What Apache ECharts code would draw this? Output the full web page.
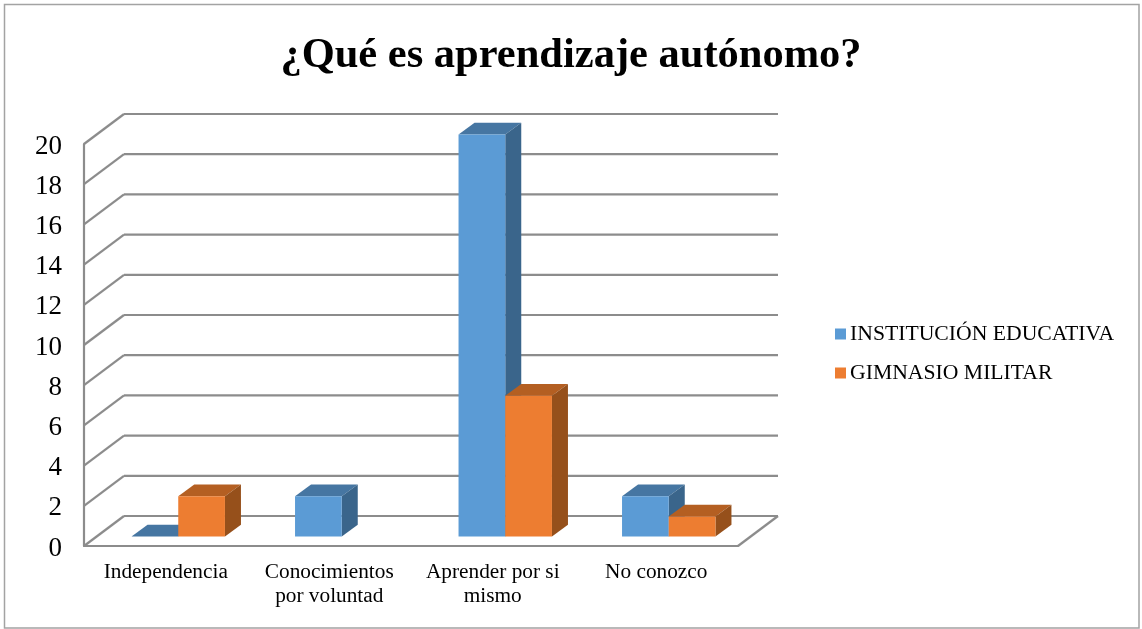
<!DOCTYPE html>
<html>
<head>
<meta charset="utf-8">
<title>¿Qué es aprendizaje autónomo?</title>
<script src="https://cdn.jsdelivr.net/npm/echarts@6/dist/echarts.min.js"></script>
<style>
  html, body { margin: 0; padding: 0; background: #fff; }
  #main { width: 1142px; height: 629px; }
</style>
</head>
<body>
<div id="main"></div>
<script>
const categories = ['Independencia', 'Conocimientos\npor voluntad', 'Aprender por si\nmismo', 'No conozco'];
const institucion = [0, 2, 20, 2];
const gimnasio = [2, null, 7, 1];
const yTicks = [0, 2, 4, 6, 8, 10, 12, 14, 16, 18, 20];

// fake 3D: depth of the floor and where the bars stand on it
const DEPTH_X = 40;
const DEPTH_Y = -30;
const BAR_X = 12.5;
const BAR_Y = -9.5;
const BAR_DX = 16;
const BAR_DY = -11.7;
const BAR_WIDTH = 0.2857;
const FONT = '"Liberation Serif", "Times New Roman", serif';
const GRID_COLOR = '#8c8c8c';

const myChart = echarts.init(document.getElementById('main'), null, { renderer: 'canvas' });

function gridLineItem (params, api) {
  const y = api.coord([0, api.value(1)])[1];
  const x0 = params.coordSys.x;
  const x1 = x0 + params.coordSys.width;
  const style = { stroke: GRID_COLOR, lineWidth: 2.2, fill: null };
  const children = [
    { type: 'line', shape: { x1: x0, y1: y, x2: x0 + DEPTH_X, y2: y + DEPTH_Y }, style: style },
    { type: 'line', shape: { x1: x0 + DEPTH_X, y1: y + DEPTH_Y, x2: x1 + DEPTH_X, y2: y + DEPTH_Y }, style: style }
  ];
  if (api.value(1) === 0) {
    children.push({ type: 'line', shape: { x1: x1, y1: y, x2: x1 + DEPTH_X, y2: y + DEPTH_Y }, style: style });
  }
  return { type: 'group', children: children };
}

function barItem (seriesIndex, colors) {
  return function (params, api) {
    const val = api.value(1);
    if (val === null || isNaN(val)) {
      return null;
    }
    const w = api.size([1, 0])[0] * BAR_WIDTH;
    const top = api.coord([api.value(0), val]);
    const base = api.coord([api.value(0), 0]);
    const x0 = top[0] + BAR_X - w + seriesIndex * w;
    const x1 = x0 + w;
    const yt = top[1] + BAR_Y;
    const yb = base[1] + BAR_Y;
    const children = [];
    children.push({
      type: 'polygon',
      shape: { points: [[x0, yt], [x1, yt], [x1 + BAR_DX, yt + BAR_DY], [x0 + BAR_DX, yt + BAR_DY]] },
      style: { fill: colors.top }
    });
    if (val > 0) {
      children.push({
        type: 'polygon',
        shape: { points: [[x1, yt], [x1 + BAR_DX, yt + BAR_DY], [x1 + BAR_DX, yb + BAR_DY], [x1, yb]] },
        style: { fill: colors.side }
      });
      children.push({
        type: 'rect',
        shape: { x: x0, y: yt, width: w, height: yb - yt },
        style: { fill: colors.front }
      });
    }
    return { type: 'group', children: children };
  };
}

const option = {
  animation: false,
  backgroundColor: '#fff',
  title: {
    text: '¿Qué es aprendizaje autónomo?',
    left: 'center',
    top: 30,
    textStyle: { fontFamily: FONT, fontSize: 42.5, fontWeight: 'bold', color: '#000' }
  },
  legend: {
    orient: 'vertical',
    left: 835,
    top: 322,
    padding: 0,
    itemWidth: 11,
    itemHeight: 11,
    itemGap: 15,
    icon: 'rect',
    data: ['INSTITUCIÓN EDUCATIVA', 'GIMNASIO MILITAR'],
    textStyle: { fontFamily: FONT, fontSize: 21.7, color: '#000', lineHeight: 24, padding: [0, 0, 0, -1] }
  },
  graphic: [{
    type: 'rect',
    shape: { x: 4.5, y: 4.5, width: 1134.5, height: 623.5 },
    style: { fill: null, stroke: '#a3a3a3', lineWidth: 1.5 }
  }],
  grid: { left: 84, top: 144, width: 654, height: 402 },
  xAxis: {
    type: 'category',
    data: categories,
    axisTick: { show: false },
    axisLine: { lineStyle: { color: GRID_COLOR, width: 2.2 } },
    axisLabel: { interval: 0, margin: 15, fontFamily: FONT, fontSize: 21.3, color: '#000', lineHeight: 23.5 }
  },
  yAxis: {
    type: 'value',
    min: 0,
    max: 20,
    interval: 2,
    splitLine: { show: false },
    axisTick: { show: false },
    axisLine: { show: true, lineStyle: { color: GRID_COLOR, width: 2.2 } },
    axisLabel: {
      margin: 22,
      formatter: '{n|{value}}',
      rich: { n: { fontFamily: FONT, fontSize: 27, color: '#000', padding: [5, 0, 0, 0] } }
    }
  },
  series: [
    {
      type: 'custom',
      silent: true,
      z: 1,
      renderItem: gridLineItem,
      encode: { x: 0, y: 1 },
      data: yTicks.map(t => [0, t])
    },
    {
      name: 'INSTITUCIÓN EDUCATIVA',
      type: 'custom',
      z: 2,
      itemStyle: { color: '#5b9bd5' },
      renderItem: barItem(0, { front: '#5b9bd5', top: '#4676a2', side: '#3a658b' }),
      encode: { x: 0, y: 1 },
      data: institucion.map((v, i) => [i, v])
    },
    {
      name: 'GIMNASIO MILITAR',
      type: 'custom',
      z: 3,
      itemStyle: { color: '#ed7d31' },
      renderItem: barItem(1, { front: '#ed7d31', top: '#b45f22', side: '#96501b' }),
      encode: { x: 0, y: 1 },
      data: gimnasio.map((v, i) => [i, v])
    }
  ]
};

myChart.setOption(option);
</script>
</body>
</html>
